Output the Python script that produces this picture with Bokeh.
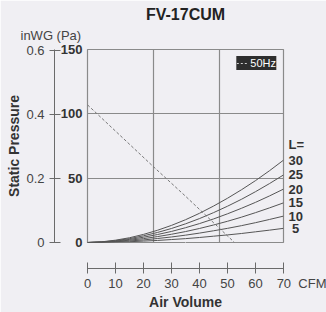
from bokeh.plotting import figure
from bokeh.models import (Range1d, LinearAxis, FixedTicker, Grid, Legend, LegendItem, Title)
from bokeh.embed import file_html
from bokeh.resources import INLINE

# ---------------- data ----------------
cfm = [0, 5, 10, 15, 20, 25, 30, 35, 40, 45, 50, 55, 60, 65, 70]
duct_lengths = ["30", "25", "20", "15", "10", "5"]
sp_L30 = [0, 0.5, 1.8, 3.7, 6.3, 9.5, 13.3, 17.7, 22.7, 28.3, 34.4, 41.0, 48.1, 55.8, 64.0]
sp_L25 = [0, 0.4, 1.4, 3.0, 5.2, 7.8, 10.9, 14.5, 18.6, 23.2, 28.2, 33.6, 39.5, 45.8, 52.5]
sp_L20 = [0, 0.3, 1.1, 2.4, 4.1, 6.2, 8.6, 11.5, 14.7, 18.3, 22.3, 26.6, 31.2, 36.2, 41.5]
sp_L15 = [0, 0.2, 0.8, 1.8, 3.0, 4.6, 6.4, 8.5, 10.9, 13.6, 16.5, 19.7, 23.2, 26.9, 30.8]
sp_L10 = [0, 0.2, 0.6, 1.2, 2.0, 3.1, 4.3, 5.7, 7.3, 9.1, 11.0, 13.1, 15.4, 17.9, 20.5]
sp_L5 = [0, 0.1, 0.3, 0.6, 1.1, 1.6, 2.3, 3.0, 3.9, 4.9, 5.9, 7.0, 8.3, 9.6, 11.0]
fan_cfm = [0, 23.5, 35, 52.5]
fan_pa = [107, 59, 36, 0]
cfm_ticks = [0, 10, 20, 30, 40, 50, 60, 70]
pa_ticks = [0, 50, 100, 150]
inwg_ticks = [0, 0.2, 0.4, 0.6]
grid_cfm = [23.54, 47.09]   # 40 and 80 m3/h
grid_pa = [50, 100]
PA_PER_INWG = 249.09

series = [sp_L30, sp_L25, sp_L20, sp_L15, sp_L10, sp_L5]

# ---------------- style ----------------
BG = "#f0eff3"
FONT = "Liberation Sans"
AXC = "#6a6a6a"
TXT = "#333333"
NB = "\u00a0"

p = figure(width=326, height=312, x_range=Range1d(0, 70), y_range=Range1d(0, 150),
           output_backend="svg", toolbar_location=None,
           x_axis_location=None, y_axis_location=None,
           min_border_left=87, min_border_right=43, min_border_top=49, min_border_bottom=69)
for g in p.grid:
    g.visible = False
p.background_fill_color = BG
p.border_fill_color = BG
p.outline_line_color = "#8a8a8a"
p.outline_line_width = 1.2

# units caption (nearest the frame) and chart title (outermost)
p.add_layout(Title(text="inWG (Pa)", align="left", offset=-67, standoff=13,
                   text_font=FONT, text_font_size="13px", text_font_style="normal",
                   text_color="#444444"), "above")
p.title.text = "FV-17CUM"
p.title.align = "center"
p.title.text_font = FONT
p.title.text_font_size = "16px"
p.title.text_font_style = "bold"
p.title.text_color = "#222222"
p.title.standoff = -6

# grids
p.add_layout(Grid(dimension=0, ticker=FixedTicker(ticks=grid_cfm),
                  grid_line_color="#8a8a8a", grid_line_width=1.2))
p.add_layout(Grid(dimension=1, ticker=FixedTicker(ticks=grid_pa),
                  grid_line_color="#8a8a8a", grid_line_width=1.2))

# curves
for s in series:
    p.line(cfm, s, line_color="#555555", line_width=1)
p.line(fan_cfm, fan_pa, line_color="#777777", line_width=1, line_dash="3 2")

proxy = p.line(x=fan_cfm[:1], y=fan_pa[:1], line_color="#d0d0d0", line_width=1.2,
               line_dash="2 2")
legend = Legend(items=[LegendItem(label="50Hz", renderers=[proxy])],
                location="top_right", margin=7, padding=3, spacing=0,
                glyph_width=12, glyph_height=14, label_standoff=2, label_height=14,
                background_fill_color="#2e2e2e", background_fill_alpha=1.0,
                border_line_color=None, label_text_color="white",
                label_text_font=FONT, label_text_font_size="11px")
p.add_layout(legend)

# ---- left axes ----
pa_axis = LinearAxis(ticker=FixedTicker(ticks=pa_ticks), axis_line_color=None,
                     major_tick_line_color=None, major_tick_out=0, major_tick_in=0,
                     minor_tick_line_color=None, major_label_standoff=5,
                     major_label_overrides={t: NB + str(t) for t in pa_ticks},
                     major_label_text_font=FONT, major_label_text_font_size="13px",
                     major_label_text_font_style="bold", major_label_text_color=TXT)
p.add_layout(pa_axis, "left")

p.extra_y_ranges = {"inwg": Range1d(0, 150 / PA_PER_INWG)}
inwg_axis = LinearAxis(y_range_name="inwg", ticker=FixedTicker(ticks=inwg_ticks),
                       major_label_overrides={0: "0"},
                       axis_line_color=AXC, major_tick_line_color=AXC,
                       major_tick_out=5, major_tick_in=6, minor_tick_line_color=None,
                       major_label_standoff=5, major_label_text_font=FONT,
                       major_label_text_font_size="13px", major_label_text_color="#444444",
                       axis_label="Static Pressure", axis_label_standoff=1,
                       axis_label_text_font=FONT, axis_label_text_font_size="14px",
                       axis_label_text_font_style="bold", axis_label_text_color=TXT)
p.add_layout(inwg_axis, "left")

# ---- right axis: duct length labels at curve ends ----
end_vals = [s[-1] for s in series]
l_pos = sp_L30[-1] + 12
r_over = {v: (NB + t if len(t) == 1 else t) for v, t in zip(end_vals, duct_lengths)}
r_over[l_pos] = "L="
right_axis = LinearAxis(ticker=FixedTicker(ticks=end_vals + [l_pos]),
                        major_label_overrides=r_over, axis_line_color=None,
                        major_tick_line_color=None, major_tick_out=0, major_tick_in=0,
                        minor_tick_line_color=None, major_label_standoff=5,
                        major_label_text_font=FONT, major_label_text_font_size="13px",
                        major_label_text_font_style="bold", major_label_text_color=TXT)
p.add_layout(right_axis, "right")

# ---- bottom axes ----
spacer_bottom = LinearAxis(ticker=FixedTicker(ticks=[35]), axis_line_color=None,
                           major_tick_line_color=BG, major_tick_out=26, major_tick_in=0,
                           minor_tick_line_color=None, major_label_standoff=0,
                           major_label_text_color=None)
p.add_layout(spacer_bottom, "below")

cfm_over = {cfm_ticks[-1]: NB * 10 + str(cfm_ticks[-1]) + NB * 2 + "CFM"}
cfm_axis = LinearAxis(ticker=FixedTicker(ticks=cfm_ticks), major_label_overrides=cfm_over,
                      axis_line_color=AXC, major_tick_line_color=AXC,
                      major_tick_out=5, major_tick_in=6, minor_tick_line_color=None,
                      major_label_standoff=2, major_label_text_font=FONT,
                      major_label_text_font_size="13px", major_label_text_color="#444444",
                      axis_label="Air Volume", axis_label_standoff=0,
                      axis_label_text_font=FONT, axis_label_text_font_size="14px",
                      axis_label_text_font_style="bold", axis_label_text_color=TXT)
p.add_layout(cfm_axis, "below")

open("out.html", "w").write(file_html(p, INLINE))
